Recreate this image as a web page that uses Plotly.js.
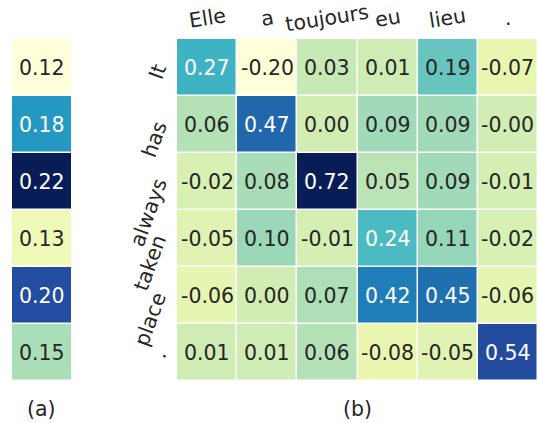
<!DOCTYPE html>
<html>
<head>
<meta charset="utf-8">
<script src="https://cdn.plot.ly/plotly-3.0.1.min.js"></script>
<style>html,body{margin:0;padding:0;background:#fff;}#chart{width:538px;height:423px;}</style>
</head>
<body>
<div id="chart"></div>
<script>
// ---- data ----
const leftValues = [0.12, 0.18, 0.22, 0.13, 0.20, 0.15];
const sourceWords = ["Elle", "a", "toujours", "eu", "lieu", "."];
const targetWords = ["It", "has", "always", "taken", "place", "."];
const matrixValues = [
  [0.27, -0.20, 0.03, 0.01, 0.19, -0.07],
  [0.06, 0.47, 0.00, 0.09, 0.09, -0.00],
  [-0.02, 0.08, 0.72, 0.05, 0.09, -0.01],
  [-0.05, 0.10, -0.01, 0.24, 0.11, -0.02],
  [-0.06, 0.00, 0.07, 0.42, 0.45, -0.06],
  [0.01, 0.01, 0.06, -0.08, -0.05, 0.54]
];
const matrixLabels = [
  ["0.27", "-0.20", "0.03", "0.01", "0.19", "-0.07"],
  ["0.06", "0.47", "0.00", "0.09", "0.09", "-0.00"],
  ["-0.02", "0.08", "0.72", "0.05", "0.09", "-0.01"],
  ["-0.05", "0.10", "-0.01", "0.24", "0.11", "-0.02"],
  ["-0.06", "0.00", "0.07", "0.42", "0.45", "-0.06"],
  ["0.01", "0.01", "0.06", "-0.08", "-0.05", "0.54"]
];
const panelLabels = ["(a)", "(b)"];

// ---- colormap (matplotlib YlGnBu) ----
const ylgnbu = ["#ffffd9", "#edf8b1", "#c7e9b4", "#7fcdbb", "#41b6c4", "#1d91c0", "#225ea8", "#253494", "#081d58"];
const colorscale = ylgnbu.map((c, i) => [i / (ylgnbu.length - 1), c]);
function hex2rgb(h) { return [parseInt(h.slice(1,3),16), parseInt(h.slice(3,5),16), parseInt(h.slice(5,7),16)]; }
function colorAt(t) {
  t = Math.max(0, Math.min(1, t));
  const n = ylgnbu.length - 1;
  const i = Math.min(n - 1, Math.floor(t * n));
  const f = t * n - i;
  const a = hex2rgb(ylgnbu[i]), b = hex2rgb(ylgnbu[i + 1]);
  return a.map((v, k) => v + (b[k] - v) * f);
}
function lum(rgb) {
  const l = rgb.map(v => { v /= 255; return v <= 0.03928 ? v / 12.92 : Math.pow((v + 0.055) / 1.055, 2.4); });
  return 0.2126 * l[0] + 0.7152 * l[1] + 0.0722 * l[2];
}
function textColor(v, vmin, vmax) {
  return lum(colorAt((v - vmin) / (vmax - vmin))) > 0.408 ? "#262626" : "#ffffff";
}

const FONT = "DejaVu Sans, Verdana, sans-serif";
const FS = 20.5;
const LABEL_FS = 20.5;
const canvas = document.createElement("canvas");
const ctx = canvas.getContext("2d");
ctx.font = LABEL_FS + "px 'DejaVu Sans'";
function textWidth(s) { return ctx.measureText(s).width; }

const lmin = Math.min(...leftValues), lmax = Math.max(...leftValues);
const flat = matrixValues.flat();
const mmin = Math.min(...flat), mmax = Math.max(...flat);

const rowIdx = leftValues.map((_, i) => i);

const traces = [
  {
    type: "heatmap",
    z: leftValues.map(v => [v]),
    x: [0], y: rowIdx,
    xaxis: "x", yaxis: "y",
    colorscale: colorscale, zmin: lmin, zmax: lmax,
    showscale: false, xgap: 0, ygap: 1.5, hoverinfo: "skip"
  },
  {
    type: "heatmap",
    z: matrixValues,
    x: sourceWords, y: targetWords,
    xaxis: "x2", yaxis: "y2",
    colorscale: colorscale, zmin: mmin, zmax: mmax,
    showscale: false, xgap: 1.5, ygap: 1.5, hoverinfo: "skip"
  }
];

const annotations = [];
leftValues.forEach((v, i) => {
  annotations.push({
    xref: "x", yref: "y", x: 0, y: i, text: v.toFixed(2), showarrow: false,
    font: { family: FONT, size: FS, color: textColor(v, lmin, lmax) }
  });
});
matrixValues.forEach((row, i) => {
  row.forEach((v, j) => {
    annotations.push({
      xref: "x2", yref: "y2", x: sourceWords[j], y: targetWords[i], text: matrixLabels[i][j], showarrow: false,
      font: { family: FONT, size: FS, color: textColor(v, mmin, mmax) }
    });
  });
});
// column labels (top, slightly rotated)
sourceWords.forEach(w => {
  annotations.push({
    xref: "x2", yref: "y2 domain", x: w, y: 1, yshift: 21, text: w, showarrow: false,
    textangle: -9, xanchor: "center", yanchor: "middle",
    font: { family: FONT, size: LABEL_FS, color: "#262626" }
  });
});
// row labels (left, rotated, anchored at the end of the word)
const ANG = 70 * Math.PI / 180;
targetWords.forEach(w => {
  const tw = textWidth(w);
  annotations.push({
    xref: "x2 domain", yref: "y2", x: 0, y: w,
    xshift: -17 - 0.5 * tw * Math.cos(ANG), yshift: -0.5 * tw * Math.sin(ANG) + 2,
    text: w, showarrow: false, textangle: -70, xanchor: "center", yanchor: "middle",
    font: { family: FONT, size: LABEL_FS, color: "#262626" }
  });
});
annotations.push({ xref: "paper", yref: "paper", x: 41.5 / 538, y: (423 - 409) / 423, text: panelLabels[0], showarrow: false,
  font: { family: FONT, size: FS, color: "#262626" }, xanchor: "center", yanchor: "middle" });
annotations.push({ xref: "paper", yref: "paper", x: 357.5 / 538, y: (423 - 409) / 423, text: panelLabels[1], showarrow: false,
  font: { family: FONT, size: FS, color: "#262626" }, xanchor: "center", yanchor: "middle" });

const ydom = [(423 - 381) / 423, (423 - 39) / 423];
const layout = {
  width: 538, height: 423,
  margin: { l: 0, r: 0, t: 0, b: 0 },
  paper_bgcolor: "#ffffff", plot_bgcolor: "#ffffff",
  showlegend: false,
  font: { family: FONT, color: "#262626" },
  xaxis: { domain: [12 / 538, 71 / 538], showticklabels: false, showgrid: false, zeroline: false, ticks: "" },
  yaxis: { domain: ydom, autorange: "reversed", showticklabels: false, showgrid: false, zeroline: false, ticks: "" },
  xaxis2: { domain: [177 / 538, 1], anchor: "y2", type: "category", showticklabels: false,
    showgrid: false, zeroline: false, ticks: "" },
  yaxis2: { domain: ydom, anchor: "x2", type: "category", autorange: "reversed", showticklabels: false,
    showgrid: false, zeroline: false, ticks: "" },
  annotations: annotations
};

Plotly.newPlot("chart", traces, layout, { displayModeBar: false, staticPlot: true });
</script>
</body>
</html>
